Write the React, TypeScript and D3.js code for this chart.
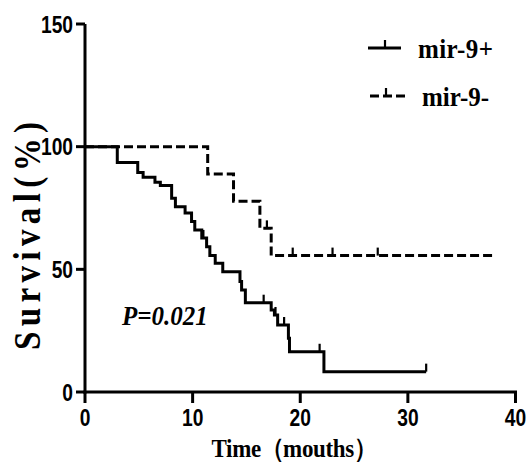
import React from 'react';
import * as d3 from 'd3';

const xTicks = [0, 10, 20, 30, 40];
const yTicks = [0, 50, 100, 150];

const posTimes = [3.0, 4.9, 5.4, 6.5, 7.0, 8.05, 8.4, 9.3, 9.9, 10.2, 10.85, 11.3, 11.6, 12.1, 12.8, 14.4, 14.55, 14.9, 17.3, 17.6, 17.9, 18.9, 19.0, 22.2];
const posSurv = [93.5, 89.5, 87.5, 85.5, 84.2, 79, 75.5, 73, 69.5, 66, 62.8, 59.2, 55.6, 52.5, 49, 45, 41.6, 36.4, 33.4, 31.4, 27.3, 21.9, 16.4, 8.3];
const posCensor = [11.0, 16.6, 17.7, 18.5, 21.8, 31.7];
const posEnd = 31.7;

const negTimes = [11.4, 13.8, 16.25, 17.3];
const negSurv = [88.9, 77.8, 66.7, 55.6];
const negCensor = [16.9, 19.3, 23.0, 27.2];
const negEnd = 37.9;

const W = 529, H = 466;
const x = d3.scaleLinear().domain([0, 40]).range([85, 515.5]);
const y = d3.scaleLinear().domain([0, 150]).range([392, 24]);

function stepPts(times: number[], surv: number[], end: number): [number, number][] {
  const pts: [number, number][] = [[0, 100]];
  times.forEach((t, i) => pts.push([t, surv[i]]));
  pts.push([end, surv[surv.length - 1]]);
  return pts;
}
function survAt(times: number[], surv: number[], t: number) {
  let s = 100;
  times.forEach((tt, i) => { if (tt <= t) s = surv[i]; });
  return s;
}

const line = d3.line<[number, number]>().x(d => x(d[0])).y(d => y(d[1])).curve(d3.curveStepAfter);

const tickFont = "'Liberation Sans', Arial, sans-serif";
const serif = "'Liberation Serif', 'Times New Roman', serif";

export default function App() {
  const posPath = line(stepPts(posTimes, posSurv, posEnd)) || '';
  const negPath = line(stepPts(negTimes, negSurv, negEnd)) || '';
  const sw = 3;
  return (
    <svg width={W} height={H} style={{ display: 'block', position: 'absolute', left: 0, top: 0, background: '#fff' }}>
      <rect width={W} height={H} fill="#fff" />
      {/* axes */}
      <line x1={x(0)} x2={x(0)} y1={y(150)} y2={y(0) + 1.5} stroke="#000" strokeWidth={3} />
      <line x1={x(0) - 1.5} x2={x(40) + 1.5} y1={y(0)} y2={y(0)} stroke="#000" strokeWidth={3} />
      {yTicks.map(v => (
        <g key={'y' + v}>
          <line x1={x(0) - 9} x2={x(0)} y1={y(v)} y2={y(v)} stroke="#000" strokeWidth={3} />
          <text transform={`translate(${x(0) - 12},${y(v) + 8.5}) scale(0.8,1)`} textAnchor="end" fontFamily={tickFont} fontWeight="bold" fontSize={24} fill="#000">{v}</text>
        </g>
      ))}
      {xTicks.map(v => (
        <g key={'x' + v}>
          <line x1={x(v)} x2={x(v)} y1={y(0)} y2={y(0) + 11} stroke="#000" strokeWidth={3} />
          <text transform={`translate(${x(v)},${425.5}) scale(0.8,1)`} textAnchor="middle" fontFamily={tickFont} fontWeight="bold" fontSize={24} fill="#000">{v}</text>
        </g>
      ))}
      {/* axis titles */}
      <text transform="translate(294,457) scale(1,1.12)" textAnchor="middle" fontFamily={serif} fontWeight="bold" fontSize={23} textLength={165} lengthAdjust="spacing" fill="#000">Time（mouths）</text>
      <text transform="translate(40,236) rotate(-90) scale(1,1.15)" textAnchor="middle" fontFamily={serif} fontWeight="bold" fontSize={33} textLength={228} lengthAdjust="spacing" fill="#000">Survival(%)</text>
      {/* curves */}
      <path d={negPath} fill="none" stroke="#000" strokeWidth={sw} strokeDasharray="9,4" />
      <path d={posPath} fill="none" stroke="#000" strokeWidth={sw} />
      {posCensor.map((t, i) => (
        <line key={'pc' + i} x1={x(t)} x2={x(t)} y1={y(survAt(posTimes, posSurv, t))} y2={y(survAt(posTimes, posSurv, t)) - 8} stroke="#000" strokeWidth={2.2} />
      ))}
      {negCensor.map((t, i) => (
        <line key={'nc' + i} x1={x(t)} x2={x(t)} y1={y(survAt(negTimes, negSurv, t))} y2={y(survAt(negTimes, negSurv, t)) - 8} stroke="#000" strokeWidth={2.2} />
      ))}
      {/* P value */}
      <text transform="translate(122,325) scale(1,1.08)" fontFamily={serif} fontWeight="bold" fontStyle="italic" fontSize={25} fill="#000">P=0.021</text>
      {/* legend */}
      <line x1={368} x2={401} y1={48} y2={48} stroke="#000" strokeWidth={sw} />
      <line x1={385} x2={385} y1={48} y2={40} stroke="#000" strokeWidth={2.2} />
      <text transform="translate(418,58) scale(1,1.08)" fontFamily={serif} fontWeight="bold" fontSize={25} textLength={75} lengthAdjust="spacing" fill="#000">mir-9+</text>
      <line x1={370} x2={406} y1={96} y2={96} stroke="#000" strokeWidth={sw} strokeDasharray="9,4" />
      <line x1={386} x2={386} y1={96} y2={88} stroke="#000" strokeWidth={2.2} />
      <text transform="translate(422,106) scale(1,1.08)" fontFamily={serif} fontWeight="bold" fontSize={25} fill="#000">mir-9-</text>
    </svg>
  );
}
